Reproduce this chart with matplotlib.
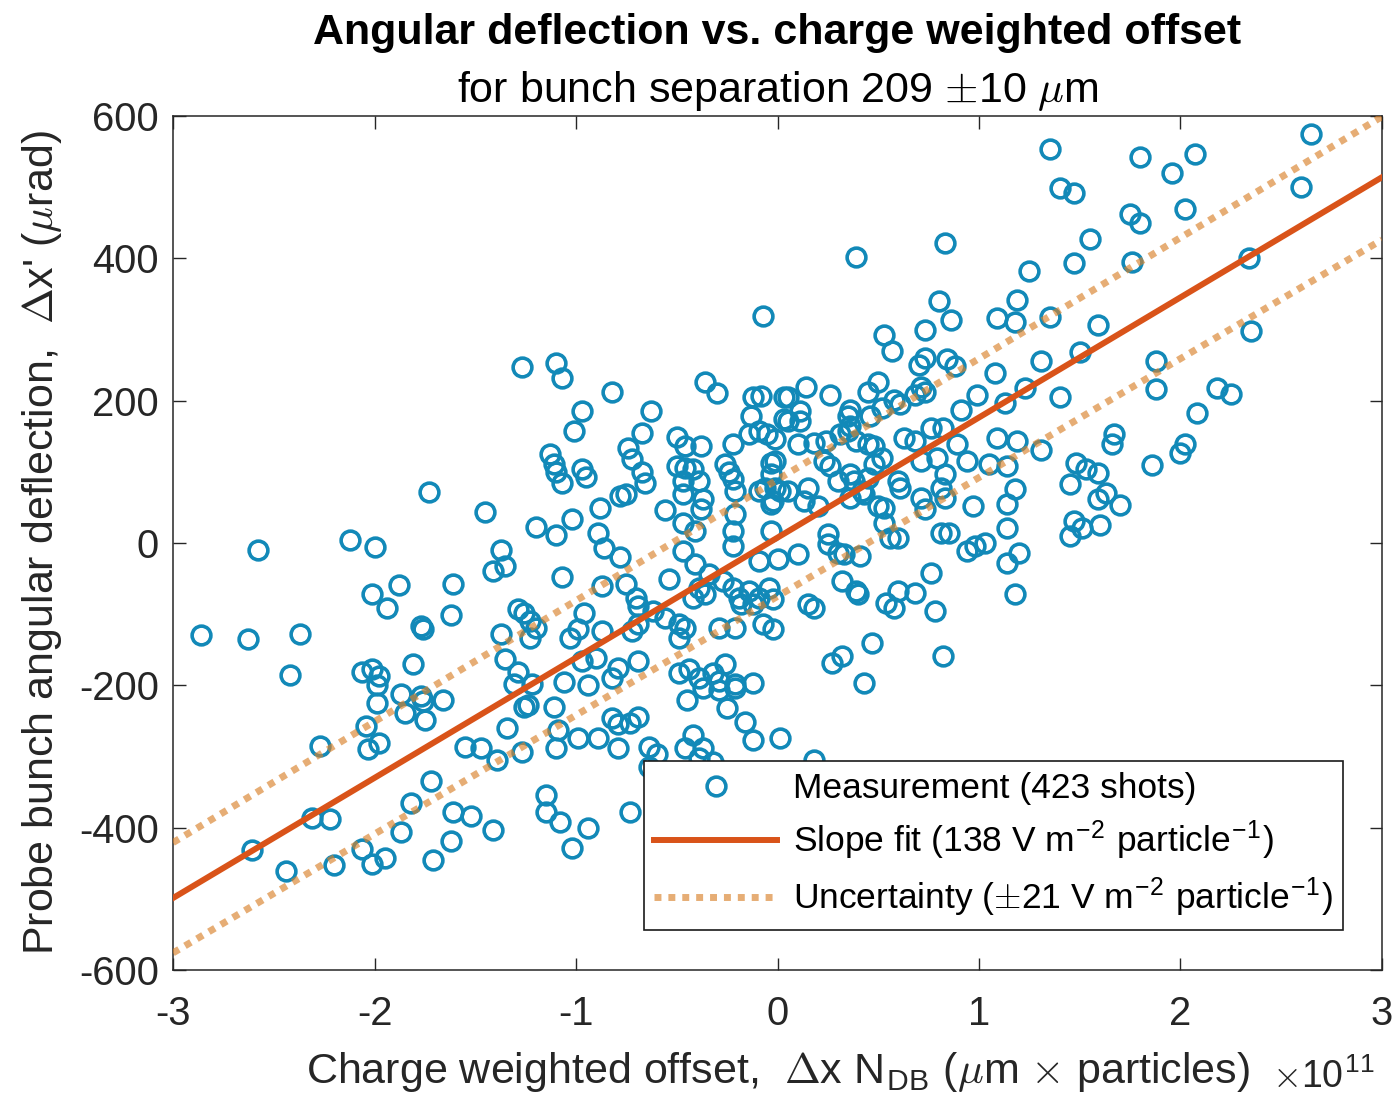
import numpy as np
import matplotlib
matplotlib.use('Agg')
import matplotlib.pyplot as plt

plt.rcParams['font.family'] = ['Liberation Sans', 'DejaVu Sans']
plt.rcParams['mathtext.fontset'] = 'cm'
plt.rcParams['axes.unicode_minus'] = False

# measured shots, x in units of 1e11 um*particles, y in urad
# far left
x_left = [-2.86, -2.63, -2.58, -2.42, -2.37, -2.27, -2.61, -2.44, -2.31, -2.22, -2.20,
          -2.06, -2.01, -1.95, -1.87, -1.82, -1.72, -1.71, -1.62, -1.61, -1.52, -1.41]
y_left = [-129, -135, -10, -185, -128, -285, -431, -461, -386, -388, -452,
          -430, -451, -443, -406, -365, -335, -445, -419, -378, -383, -403]
# left cluster
x_lclu = [-2.06, -2.01, -1.98, -1.99, -1.99, -1.87, -1.77, -1.76, -1.66, -1.85, -1.75, -2.04, -2.03, -1.98, -1.55, -1.47, -1.81,
          -2.12, -2.00, -1.73, -1.45, -2.01, -1.94, -1.88, -1.61, -1.62, -1.77, -1.76, -1.41, -1.37, -1.35]
y_lclu = [-181, -177, -187, -200, -225, -212, -215, -222, -220, -239, -249, -257, -290, -281, -287, -288, -170,
          4, -5, 72, 43, -72, -91, -59, -57, -101, -117, -121, -39, -10, -32]
# top middle
x_top = [-0.07, -1.27, -1.10, -1.07, -0.82, -0.97, -0.63, -0.36, -0.30, -0.12, -0.08, 0.03]
y_top = [319, 247, 253, 232, 212, 185, 185, 226, 211, 205, 207, 205]
# centre left
x_cl = [-1.01, -0.67, -0.74, -0.72, -0.67, -0.66, -0.50, -0.46, -0.38, -0.22,
        -0.13, -0.14, -0.09, -0.05, -0.01, 0.03, -1.13, -1.11, -1.10, -1.07,
        -0.97, -0.95, -0.78, -0.75, -0.50, -0.46, -0.42, -0.47, -0.39, -0.47,
        -0.37, -0.38, -0.56, -0.47, -0.41, -0.26, -0.24, -0.22, -0.21, -0.09,
        -0.06, -0.03, -0.03, 0.01, -0.21, -0.22, -0.22, -0.03, -1.20, -1.10,
        -1.02, -0.88, -0.89, -0.86, -0.78, -1.07, -0.87, -0.75, -0.70, -0.69,
        -0.54, -0.47, -0.41, -0.34, -0.39, -0.42, -0.36, -0.27, -0.22, -0.19,
        -0.14, -0.09, -0.04, -0.02, -0.12, -0.18, -0.09, 0.00, -1.29, -1.26,
        -1.23, -1.20, -1.23, -1.37, -1.35, -1.29, -1.31, -1.22, -0.96, -0.99,
        -1.03, -0.90, -0.87, -0.97, -1.06, -0.94, -0.82, -0.79, -0.69, -0.72,
        -0.69, -0.62, -0.56, -0.49, -0.46, -0.49, -0.29, -0.21, -0.07, -0.02,
        -0.49, -0.44, -0.39, -0.32, -0.26, -0.29, -0.21, -0.12]
y_cl = [157, 155, 133, 118, 100, 84, 149, 136, 136, 139,
        178, 153, 157, 153, 146, 174, 125, 111, 99, 84,
        104, 93, 66, 69, 108, 106, 104, 87, 87, 69,
        62, 48, 46, 28, 17, 111, 99, 90, 73, 73,
        77, 112, 55, 73, 41, 17, -4, 17, 22, 11,
        34, 49, 14, -7, -20, -48, -60, -58, -77, -89,
        -51, -11, -29, -44, -63, -77, -72, -53, -63, -78,
        -68, -78, -63, -79, -86, -86, -25, -23, -93, -98,
        -110, -120, -133, -128, -163, -182, -198, -198, -98, -121,
        -134, -162, -124, -166, -195, -200, -190, -176, -166, -124,
        -114, -96, -105, -114, -119, -134, -119, -119, -114, -121,
        -183, -177, -190, -183, -170, -194, -198, -197]
# lower middle
x_low = [-1.24, -1.26, -1.11, -1.34, -1.39, -1.27, -1.09, -1.10, -0.99, -0.89,
         -0.82, -0.79, -0.73, -0.69, -0.79, -0.64, -0.60, -0.64, -0.45, -0.37,
         -0.29, -0.21, -0.25, -0.16, -0.12, 0.01, -0.42, -0.46, -0.37, -0.39,
         -0.32, -1.15, -1.15, -1.08, -0.94, -1.02, -0.73, 0.43, 0.18]
y_low = [-228, -231, -230, -260, -305, -294, -263, -288, -274, -274,
         -246, -254, -253, -245, -288, -287, -296, -315, -221, -204,
         -206, -204, -232, -252, -277, -274, -270, -288, -288, -302,
         -308, -354, -378, -392, -400, -429, -378, -197, -305]
# upper right
x_ur = [1.35, 1.40, 1.47, 1.55, 1.47, 0.39, 0.83, 1.25, 0.80, 0.86,
        1.19, 1.09, 1.18, 1.35, 0.53, 0.57, 0.73, 0.84, 0.88, 0.73,
        0.70, 0.71, 0.73, 0.68, 1.08, 1.31, 1.23, 1.50, 1.40, 0.99,
        0.50, 0.45, 0.26, 0.14, 0.05, 0.58, 0.36, 0.91, 1.13, 2.65,
        1.80, 2.07, 1.96, 1.75, 1.80, 2.02, 2.60, 1.76, 2.34, 1.59,
        2.35, 1.88, 1.88, 2.18, 2.25, 2.08]
y_ur = [554, 499, 492, 427, 393, 402, 421, 382, 340, 313,
        341, 316, 311, 318, 292, 270, 299, 259, 249, 260,
        250, 219, 212, 208, 239, 256, 218, 268, 205, 208,
        226, 212, 208, 219, 205, 201, 187, 187, 197, 574,
        543, 547, 520, 462, 450, 469, 500, 395, 400, 306,
        298, 256, 216, 218, 209, 182]
# right
x_right = [1.67, 1.66, 2.02, 2.00, 1.86, 1.48, 1.53, 1.59, 1.45, 1.63, 1.59, 1.70, 1.47, 1.51, 1.60, 1.45]
y_right = [153, 139, 139, 126, 110, 112, 104, 98, 83, 70, 62, 53, 31, 21, 25, 10]
# centre right
x_cr = [0.11, 0.05, 0.11, 0.10, 0.18, 0.24, 0.31, 0.35, 0.36, 0.39,
        0.35, 0.46, 0.45, 0.48, 0.52, 0.61, 0.63, 0.68, 0.76, 0.82,
        0.89, 1.09, 1.19, 1.31, -0.01, -0.03, -0.01, -0.02, 0.05, 0.15,
        0.13, 0.20, 0.23, 0.26, 0.30, 0.36, 0.38, 0.42, 0.45, 0.48,
        0.52, 0.36, 0.43, 0.50, 0.53, 0.60, 0.61, 0.71, 0.79, 0.83,
        0.81, 0.83, 0.71, 0.73, 0.94, 1.05, 1.14, 1.18, 1.14, 0.97,
        1.14, 0.53, 0.60, 0.81, 0.85, 0.94, 0.98, 1.03, 1.14, 1.20,
        0.76, 1.18, 0.10, 0.25, 0.25, 0.30, 0.33, 0.41, 0.56, 0.32,
        0.39, 0.40, 0.15, 0.18, 0.54, 0.60, 0.58, 0.68, 0.78, 0.47,
        0.32, 0.27, 0.82]
y_cr = [186, 171, 171, 139, 141, 143, 153, 157, 164, 143,
        178, 178, 139, 136, 190, 195, 148, 143, 162, 162,
        139, 148, 143, 130, 115, 97, 77, 59, 73, 77,
        59, 52, 115, 108, 87, 97, 87, 73, 91, 111,
        119, 63, 69, 52, 49, 87, 77, 115, 119, 97,
        77, 63, 63, 48, 115, 111, 108, 76, 55, 52,
        21, 28, 7, 14, 14, -11, -4, 0, -28, -14,
        -42, -72, -15, 13, -1, -14, -15, -18, 7, -53,
        -68, -72, -86, -91, -84, -68, -91, -70, -96, -141,
        -159, -169, -159]

# fit and uncertainty band (intercept, slope per 1e11)
fit_line = (7.5, 168.8)
band_upper = (89.0, 170.0)
band_lower = (-75.0, 167.0)

x_meas = np.concatenate([x_left, x_lclu, x_top, x_cl, x_low, x_ur, x_right, x_cr])
y_meas = np.concatenate([y_left, y_lclu, y_top, y_cl, y_low, y_ur, y_right, y_cr])

blue = '#1289b8'
red = '#D95319'
orange = '#D9822B'

fig = plt.figure(figsize=(13.93, 11.01), dpi=100)
ax = fig.add_axes([0.1242, 0.119, 0.8679, 0.7757])

ax.plot(x_meas, y_meas, 'o', mfc='none', mec=blue, ms=13.5, mew=2.6,
        label='Measurement (423 shots)', zorder=2)
xx = np.array([-3.0, 3.0])
ax.plot(xx, fit_line[0] + fit_line[1] * xx, color=red, lw=4.3, zorder=3,
        label=r'Slope fit (138 V m$^{\mathregular{-2}}$ particle$^{\mathregular{-1}}$)')
ax.plot(xx, band_upper[0] + band_upper[1] * xx, color=orange, alpha=0.65, lw=5,
        dashes=(1, 1), solid_capstyle='butt', dash_capstyle='butt', zorder=3,
        label=r'Uncertainty ($\pm$21 V m$^{\mathregular{-2}}$ particle$^{\mathregular{-1}}$)')
ax.plot(xx, band_lower[0] + band_lower[1] * xx, color=orange, alpha=0.65, lw=5,
        dashes=(1, 1), dash_capstyle='butt', zorder=3)

ax.set_xlim(-3, 3)
ax.set_ylim(-600, 600)
ax.set_xticks(np.arange(-3, 4, 1))
ax.set_yticks(np.arange(-600, 601, 200))
ax.tick_params(direction='in', length=9, width=1, top=True, right=True,
               labelsize=28.8, colors='#262626', pad=10)
ax.tick_params(axis='x', pad=18)
for s in ax.spines.values():
    s.set_linewidth(1.1)
    s.set_color('#262626')

leg = ax.legend(loc='lower right', bbox_to_anchor=(0.9677, 0.0468), borderaxespad=0,
                fontsize=25.5, fancybox=False, framealpha=1, edgecolor='#1a1a1a',
                handlelength=3.45, handletextpad=0.45, labelspacing=0.38,
                borderpad=0.3)
leg.get_frame().set_linewidth(1.2)

xc = (0.1242 + 0.1242 + 0.8679) / 2
fig.text(xc, 0.970, 'Angular deflection vs. charge weighted offset', ha='center', va='center',
         fontsize=31, fontweight='bold', color='k')
fig.text(xc, 0.917, r'for bunch separation 209 $\pm$10 $\mu$m', ha='center', va='center',
         fontsize=31, color='k')
fig.text(xc, 0.026, r'Charge weighted offset,  $\Delta$x N$_{\mathregular{DB}}$ ($\mu$m $\times$ particles)',
         ha='center', va='center', fontsize=31, color='#262626')
fig.text(0.030, 0.507, r"Probe bunch angular deflection,  $\Delta$x' ($\mu$rad)",
         ha='center', va='center', rotation=90, fontsize=31, color='#262626')
fig.text(0.913, 0.012, r'$\times$10$^{\mathregular{11}}$', ha='left', va='baseline',
         fontsize=27, color='#262626')

fig.savefig('out.png', dpi=100)
